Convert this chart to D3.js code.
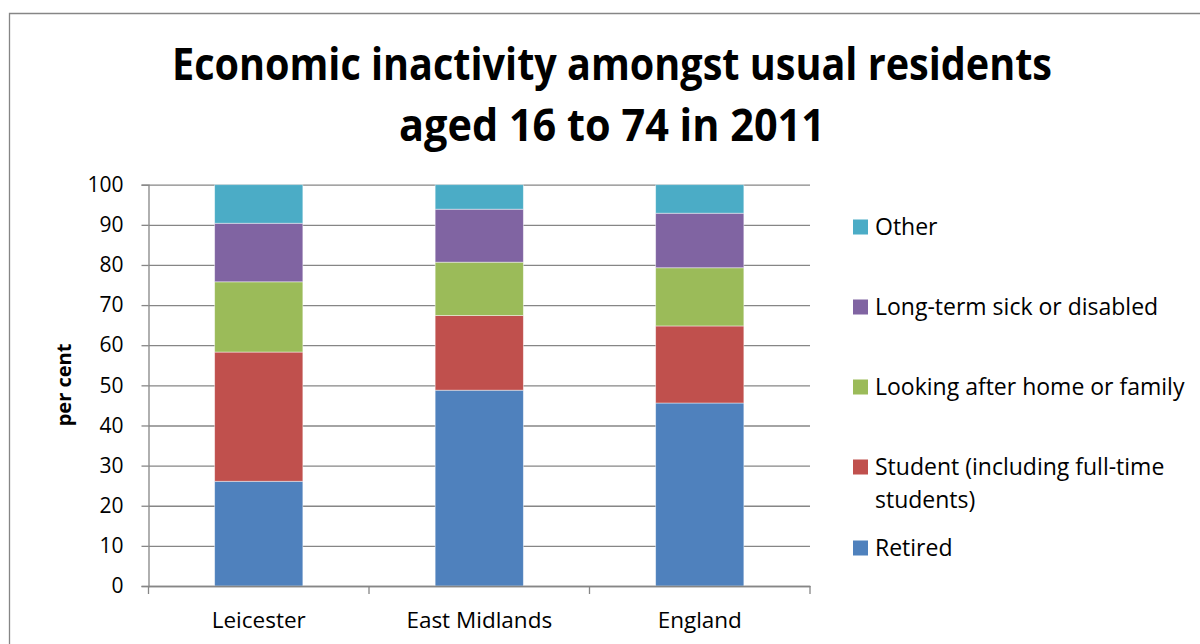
<!DOCTYPE html>
<html>
<head>
<meta charset="utf-8">
<script src="https://cdn.jsdelivr.net/npm/d3@7"></script>
<style>
  html, body { margin: 0; padding: 0; background: #fff; }
  svg { display: block; }
  text { font-family: "Open Sans", Lato, sans-serif; fill: #000; }
</style>
</head>
<body>
<svg id="chart" width="1200" height="644"></svg>
<script>
// Categories and stacked series (per cent of economically inactive residents aged 16-74)
const categories = ["Leicester", "East Midlands", "England"];
const seriesNames = ["Retired", "Student (including full-time students)", "Looking after home or family", "Long-term sick or disabled", "Other"];
const retired   = [26.1, 48.8, 45.6];
const student   = [32.2, 18.6, 19.2];
const homeCare  = [17.5, 13.3, 14.5];
const longSick  = [14.6, 13.2, 13.6];
const other     = [9.6, 6.1, 7.1];
const seriesColors = ["#4F81BD", "#C0504D", "#9BBB59", "#8064A2", "#4BACC6"];
const yTicks = [0, 10, 20, 30, 40, 50, 60, 70, 80, 90, 100];
const titleLines = ["Economic inactivity amongst usual residents", "aged 16 to 74 in 2011"];
const yAxisTitle = "per cent";

const svg = d3.select("#chart");

// Outer chart frame
svg.append("path")
  .attr("d", "M9.5,650 V13.5 H1205")
  .attr("fill", "none")
  .attr("stroke", "#868686")
  .attr("stroke-width", 1.3);

// Title
const titleWidths = [880, 426];
const titleBaselines = [80, 141];
titleLines.forEach((t, i) => {
  svg.append("text")
    .attr("x", 612)
    .attr("y", titleBaselines[i])
    .attr("text-anchor", "middle")
    .attr("font-family", "Lato, sans-serif")
    .attr("font-size", 44)
    .attr("font-weight", 700)
    .attr("textLength", titleWidths[i])
    .attr("lengthAdjust", "spacingAndGlyphs")
    .text(t);
});

// Plot area
const plot = { left: 148.5, right: 810, top: 184.7, bottom: 586 };

const x = d3.scaleBand()
  .domain(categories)
  .range([plot.left, plot.right])
  .paddingInner(0.6)
  .paddingOuter(0.3);

const y = d3.scaleLinear()
  .domain([0, 100])
  .range([plot.bottom, plot.top]);

// Gridlines
const grid = svg.append("g")
  .attr("transform", `translate(${plot.left},0)`)
  .call(d3.axisLeft(y).tickValues(yTicks).tickSize(-(plot.right - plot.left)).tickFormat(""));
grid.select(".domain").remove();
grid.selectAll("line").attr("stroke", "#868686").attr("stroke-width", 1.3);

// Stacked bars
const rows = categories.map((c, i) => ({
  category: c,
  s0: retired[i], s1: student[i], s2: homeCare[i], s3: longSick[i], s4: other[i]
}));
const stack = d3.stack().keys(["s0", "s1", "s2", "s3", "s4"]);
const layers = stack(rows);

svg.append("g")
  .selectAll("g")
  .data(layers)
  .join("g")
  .attr("fill", (d, i) => seriesColors[i])
  .selectAll("rect")
  .data(d => d)
  .join("rect")
  .attr("x", d => x(d.data.category))
  .attr("width", x.bandwidth())
  .attr("y", d => y(d[1]))
  .attr("height", d => y(d[0]) - y(d[1]))
  .attr("stroke", "rgba(255,255,255,0.55)")
  .attr("stroke-width", 0.8);

// Y axis
const yAxis = svg.append("g")
  .attr("transform", `translate(${plot.left},0)`)
  .call(d3.axisLeft(y).tickValues(yTicks).tickSize(7).tickPadding(18));
yAxis.select(".domain").attr("stroke", "#868686").attr("stroke-width", 1.3);
yAxis.selectAll("line").attr("stroke", "#868686").attr("stroke-width", 1.3);
yAxis.selectAll("text")
  .attr("font-size", 21)
  .attr("font-family", "'Open Sans', sans-serif")
  .attr("fill", "#000");

// X axis: baseline, boundary ticks and category labels
const xAxis = svg.append("g")
  .attr("transform", `translate(0,${plot.bottom})`)
  .call(d3.axisBottom(x).tickSize(0).tickPadding(26));
xAxis.select(".domain").attr("stroke", "#868686").attr("stroke-width", 1.3);
xAxis.selectAll("text")
  .attr("font-size", 22.5)
  .attr("font-family", "'Open Sans', sans-serif")
  .attr("fill", "#000");
const boundaries = d3.range(categories.length + 1).map(i => plot.left + i * x.step());
svg.append("g")
  .selectAll("line")
  .data(boundaries)
  .join("line")
  .attr("x1", d => d).attr("x2", d => d)
  .attr("y1", plot.bottom).attr("y2", plot.bottom + 8)
  .attr("stroke", "#868686")
  .attr("stroke-width", 1.3);

// Y axis title
svg.append("text")
  .attr("transform", "translate(71,385) rotate(-90)")
  .attr("text-anchor", "middle")
  .attr("font-size", 20)
  .attr("font-weight", 700)
  .text(yAxisTitle);

// Legend (top entry is the top of the stack)
const legendItems = [
  { name: seriesNames[4], color: seriesColors[4], lines: ["Other"] },
  { name: seriesNames[3], color: seriesColors[3], lines: ["Long-term sick or disabled"] },
  { name: seriesNames[2], color: seriesColors[2], lines: ["Looking after home or family"] },
  { name: seriesNames[1], color: seriesColors[1], lines: ["Student (including full-time", "students)"] },
  { name: seriesNames[0], color: seriesColors[0], lines: ["Retired"] }
];
const legendY = [227, 307, 387, 467, 548];
const legend = svg.append("g");
legendItems.forEach((item, i) => {
  const g = legend.append("g").attr("transform", `translate(853,${legendY[i]})`);
  g.append("rect")
    .attr("x", 0).attr("y", -7.5)
    .attr("width", 15).attr("height", 15)
    .attr("fill", item.color);
  item.lines.forEach((ln, j) => {
    g.append("text")
      .attr("x", 22)
      .attr("y", 8 + j * 33)
      .attr("font-size", 23)
      .text(ln);
  });
});
</script>
</body>
</html>
